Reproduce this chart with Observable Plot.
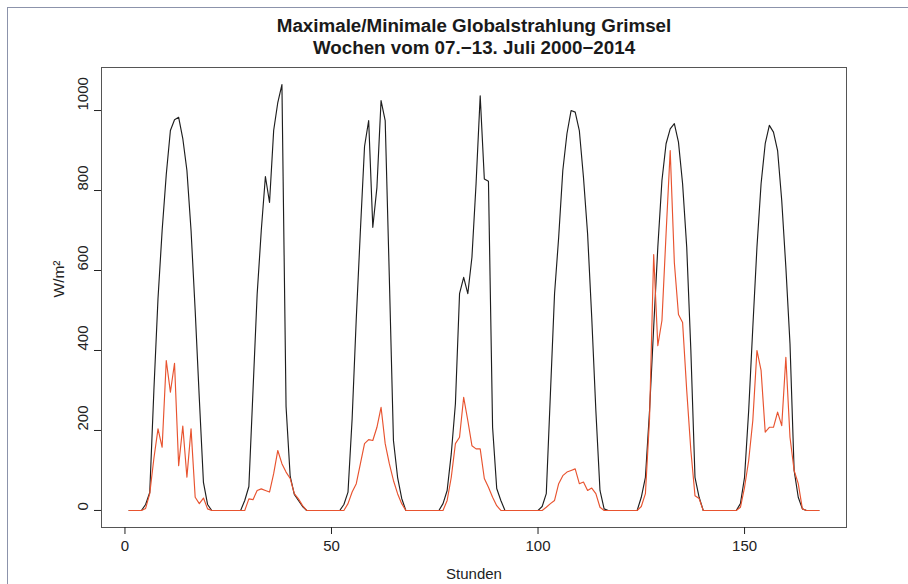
<!DOCTYPE html>
<html><head><meta charset="utf-8">
<script src="https://cdn.jsdelivr.net/npm/d3@7"></script>
<script src="https://cdn.jsdelivr.net/npm/@observablehq/plot@0.6"></script>
<style>
html,body{margin:0;padding:0;background:#fff;}
#wrap{position:relative;width:908px;height:584px;overflow:hidden;}
#scanframe{position:absolute;left:7px;top:7px;width:1000px;height:1000px;border-left:1px solid #8c93ab;border-top:1px solid #8c93ab;pointer-events:none;}
</style></head><body>
<div id="wrap"><div id="chart"></div><div id="scanframe"></div></div>
<script>
// hour index 1..168 (one week, hourly)
const hours = d3.range(1, 169);

// maximum global radiation (black)
const maxValues = [
  0,0,0,0,15,45,300,530,700,840,950,977,983,930,850,700,500,280,70,15,0,0,0,0,
  0,0,0,0,25,60,300,540,700,835,770,950,1020,1065,260,85,40,25,10,0,0,0,0,0,
  0,0,0,0,15,46,230,480,700,910,975,708,808,1025,975,583,175,83,30,0,0,0,0,0,
  0,0,0,0,17,50,142,267,542,583,542,633,817,1037,829,823,208,55,25,0,0,0,0,0,
  0,0,0,0,10,42,292,542,683,850,942,1000,996,950,833,692,483,250,50,4,0,0,0,0,
  0,0,0,0,33,83,250,458,658,825,917,954,967,921,817,658,400,83,33,0,0,0,0,0,
  0,0,0,0,17,83,250,458,658,817,917,963,946,900,775,608,417,100,33,4,0,0,0,0
];

// minimum global radiation (red)
const minValues = [
  0,0,0,0,5,42,130,204,158,375,296,368,112,211,83,204,33,17,31,4,0,0,0,0,
  0,0,0,0,0,29,27,50,54,50,46,92,150,117,96,80,42,29,12,0,0,0,0,0,
  0,0,0,0,0,17,46,67,117,167,177,175,208,258,167,117,75,42,17,0,0,0,0,0,
  0,0,0,0,0,25,83,167,183,283,225,162,154,154,80,58,33,12,0,0,0,0,0,0,
  0,0,0,0,0,8,17,25,67,87,96,100,104,67,71,50,56,42,8,0,0,0,0,0,
  0,0,0,0,10,42,230,640,412,475,692,900,620,490,470,300,150,37,30,0,0,0,0,0,
  0,0,0,0,8,58,125,225,400,350,196,208,208,246,212,383,183,100,67,4,0,0,0,0
];

const xTicks = [0, 50, 100, 150];
const yTicks = [0, 200, 400, 600, 800, 1000];
const titleLines = ["Maximale/Minimale Globalstrahlung Grimsel", "Wochen vom 07.\u221213. Juli 2000\u22122014"];
const xLabel = "Stunden";
const yLabel = "W/m\u00B2";

const rows = hours.map((h, i) => ({h, max: maxValues[i], min: minValues[i]}));

// R-style 4% padding of the data range
const xExt = d3.extent(hours);
const xPad = (xExt[1] - xExt[0]) * 0.04;
const yMax = d3.max([...maxValues, ...minValues]);
const yPad = yMax * 0.04;

const font = "Liberation Sans, Arial, Helvetica, sans-serif";

const chart = Plot.plot({
  width: 908,
  height: 584,
  marginLeft: 101,
  marginRight: 62,
  marginTop: 67,
  marginBottom: 57,
  style: {fontFamily: font, background: "white", color: "#222", fontSize: "15px"},
  x: {domain: [xExt[0] - xPad, xExt[1] + xPad], label: null},
  y: {domain: [0 - yPad, yMax + yPad], label: null},
  marks: [
    Plot.frame({stroke: "#555", strokeWidth: 1}),
    Plot.axisX({ticks: xTicks, tickSize: 7, tickPadding: 6, fontSize: 15, label: null}),
    Plot.axisY({ticks: yTicks, tickSize: 7, tickFormat: () => "", label: null}),
    Plot.text(yTicks, {y: d => d, text: d => String(d), frameAnchor: "left", dx: -18, rotate: -90, fontSize: 15, fill: "#222"}),
    Plot.line(rows, {x: "h", y: "max", stroke: "#1e1e1e", strokeWidth: 1.15}),
    Plot.line(rows, {x: "h", y: "min", stroke: "#e8532f", strokeWidth: 1.15}),
    Plot.text([titleLines[0]], {text: d => d, frameAnchor: "top", lineAnchor: "bottom", dy: -36, fontSize: 18.8, fontWeight: "bold", fill: "#1a1a1a"}),
    Plot.text([titleLines[1]], {text: d => d, frameAnchor: "top", lineAnchor: "bottom", dy: -13.5, fontSize: 18.8, fontWeight: "bold", fill: "#1a1a1a"}),
    Plot.text([xLabel], {text: d => d, frameAnchor: "bottom", lineAnchor: "bottom", dy: 51, fontSize: 15, fill: "#222"}),
    Plot.text([yLabel], {text: d => d, frameAnchor: "left", dx: -42, rotate: -90, fontSize: 15.5, fill: "#222"})
  ]
});
document.getElementById("chart").appendChild(chart);
</script>
</body></html>
